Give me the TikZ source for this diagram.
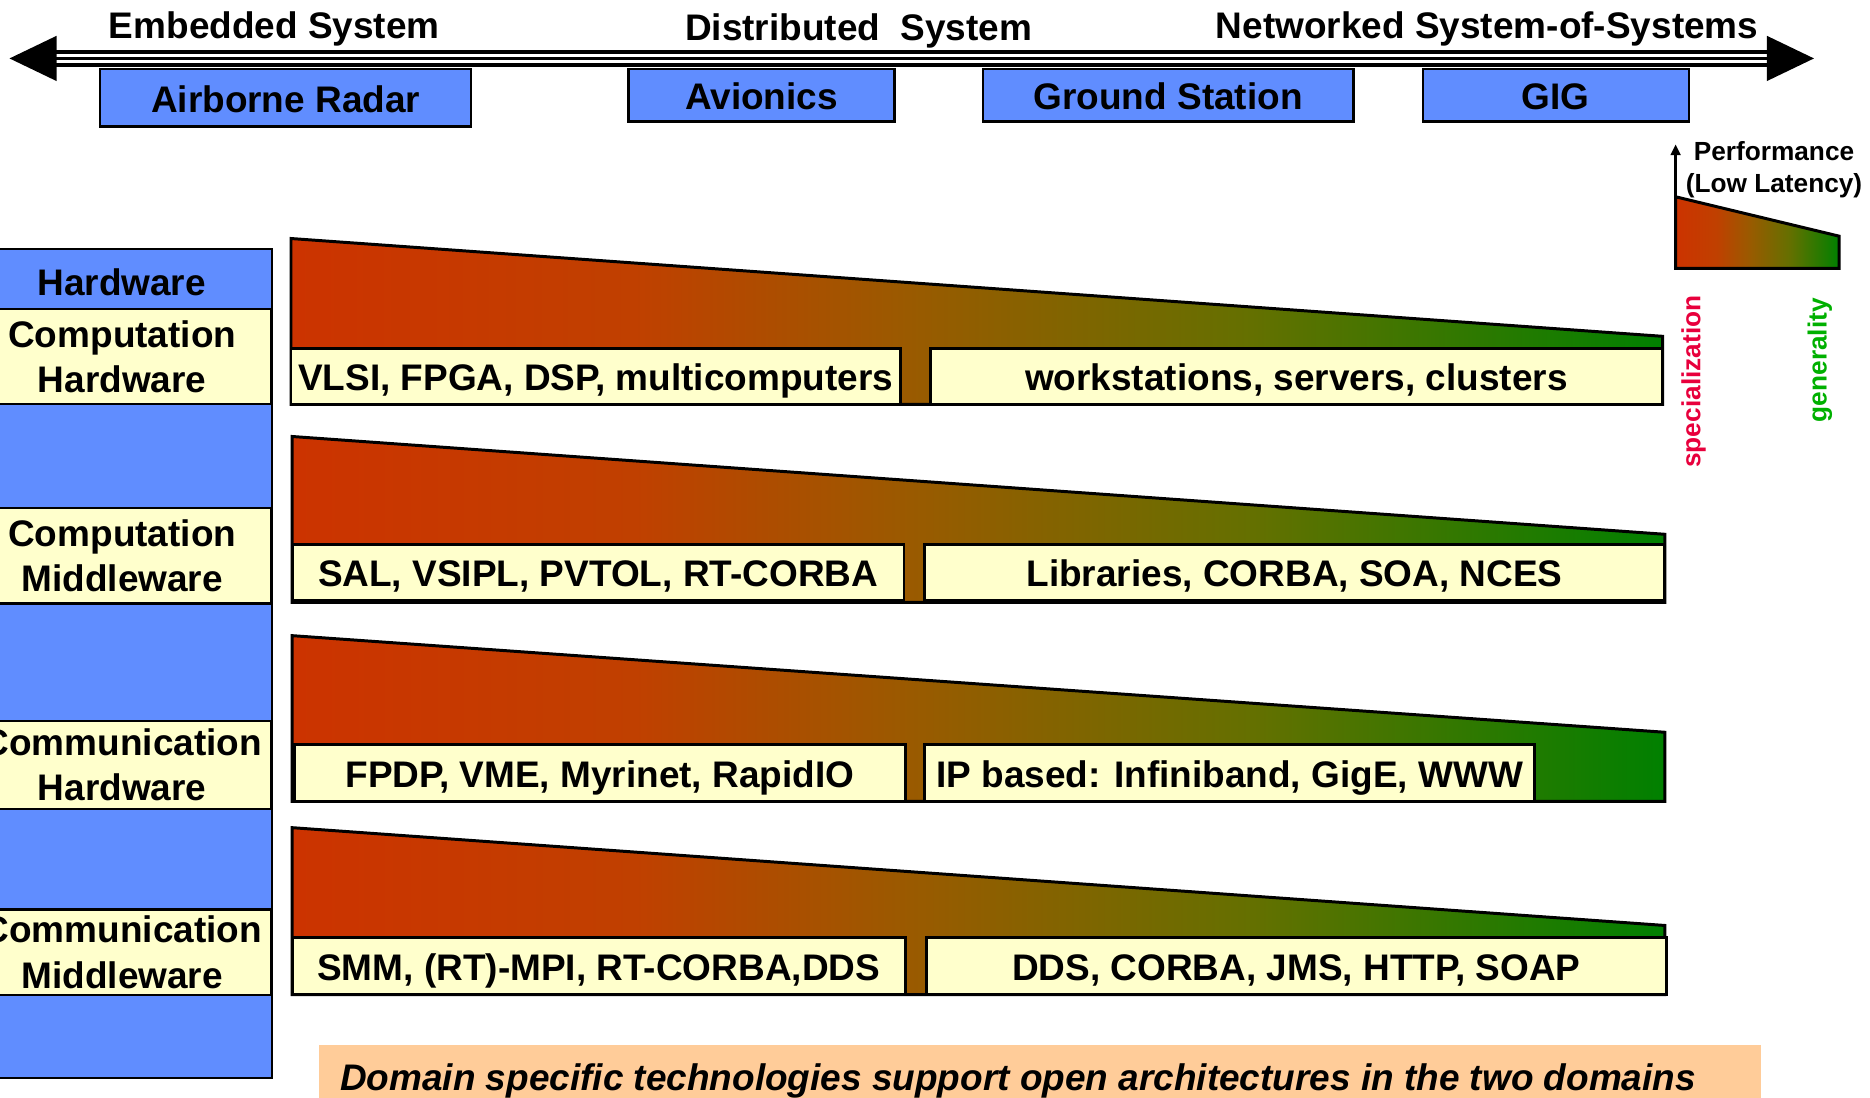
\documentclass[tikz,border=0pt]{standalone}
\usepackage{fontspec}
\setmainfont{Liberation Sans}
\usetikzlibrary{arrows.meta}

\definecolor{boxblue}{RGB}{96,141,255}
\definecolor{boxyellow}{RGB}{255,255,204}
\definecolor{peach}{RGB}{255,204,153}
\definecolor{wL}{RGB}{204,51,0}
\definecolor{wA}{RGB}{192,64,0}
\definecolor{wM}{RGB}{154,90,0}
\definecolor{wB}{RGB}{100,112,0}
\definecolor{wR}{RGB}{0,128,0}
\definecolor{specred}{RGB}{232,0,60}
\definecolor{gengreen}{RGB}{0,176,0}

% red -> brown -> olive -> green, spread over the path's width
\pgfdeclarehorizontalshading{wedgeshade}{100bp}{color(0bp)=(wL); color(25bp)=(wL); color(37.5bp)=(wA); color(47.5bp)=(wM); color(60bp)=(wB); color(75bp)=(wR); color(100bp)=(wR)}

\tikzset{
  lbl/.style={font=\fontsize{31}{37}\selectfont\bfseries, inner sep=0pt},
  oneline/.style={text height=24pt, text depth=0pt},
  bluebox/.style={lbl, oneline, draw=black, line width=2pt, fill=boxblue},
  strip/.style={lbl, align=center, draw=black, line width=2pt, fill=boxyellow,
                minimum width=249pt},
  techbox/.style={lbl, oneline, draw=black, line width=2.5pt, fill=boxyellow},
  wedge/.style={draw=black, line width=2.5pt, shading=wedgeshade},
  shaft/.style={line width=2.8pt},
  small/.style={font=\fontsize{22}{27}\selectfont\bfseries, inner sep=0pt},
}

\begin{document}
\begin{tikzpicture}[x=1pt, y=-1pt]
\useasboundingbox (0,0) rectangle (1568,920);
\clip (0,0) rectangle (1568,920);

% ---------- scale arrow across the top ----------
\coordinate (ltip) at (8,49);
\coordinate (rtip) at (1521,49);
\fill (ltip) -- ++(39.5,-19) -- ++(0,38) -- cycle;
\fill (rtip) -- ++(-39.5,-19) -- ++(0,38) -- cycle;
\draw[shaft] ([shift={(39,-5.3)}]ltip) -- ([shift={(-39,-5.3)}]rtip);
\draw[shaft] ([shift={(39,0.2)}]ltip) -- ([shift={(-39,0.2)}]rtip);
\draw[shaft] ([shift={(39,5.4)}]ltip) -- ([shift={(-39,5.4)}]rtip);

\node[lbl, oneline] (embedded) at (230,20) {Embedded System};
\node[lbl, oneline] (distributed) at (720,22) {Distributed\ \ System};
\node[lbl, oneline] (networked) at (1247,20) {Networked System-of-Systems};

\node[bluebox, minimum width=311pt, minimum height=48pt] (radar) at (239.5,82) {Airborne Radar};
\node[bluebox, minimum width=223pt, minimum height=44pt] (avionics) at (638.5,80) {Avionics};
\node[bluebox, minimum width=311pt, minimum height=44pt] (ground) at (979.5,80) {Ground Station};
\node[bluebox, minimum width=223pt, minimum height=44pt] (gig) at (1304.5,80) {GIG};

% ---------- layer column on the left ----------
\node[draw=black, line width=2pt, fill=boxblue, minimum width=249pt, minimum height=695pt,
      anchor=north west, inner sep=0pt] (column) at (-22,208) {};
\node[lbl, oneline] (hwhead) at (102,236) {Hardware};
\node[strip, minimum height=80pt] (comphw) at (102.5,299) {Computation\\[1pt]Hardware};
\node[strip, minimum height=80pt] (compmw) at (102.5,466) {Computation\\[1pt]Middleware};
\node[strip, minimum height=74pt] (commhw) at (102.5,641.5) {Communication\\[1pt]Hardware};
\node[strip, minimum height=72pt] (commmw) at (102.5,798.5) {Communication\\[1pt]Middleware};

% ---------- row 1: computation hardware ----------
\draw[wedge] (244,339) -- (244,200) -- (1394,282) -- (1394,339) -- cycle;
\node[techbox, minimum width=511pt, minimum height=47pt] (vlsi) at (499.5,315.5) {VLSI, FPGA, DSP, multicomputers};
\node[techbox, minimum width=614pt, minimum height=47pt] (wks) at (1087,315.5) {workstations, servers, clusters};

% ---------- row 2: computation middleware ----------
\draw[wedge] (245,505) -- (245,366) -- (1396,448) -- (1396,505) -- cycle;
\node[techbox, minimum width=513pt, minimum height=47pt] (sal) at (501.5,480) {SAL, VSIPL, PVTOL, RT-CORBA};
\node[techbox, minimum width=621pt, minimum height=47pt] (libs) at (1085.5,480) {Libraries, CORBA, SOA, NCES};

% ---------- row 3: communication hardware ----------
\draw[wedge] (245,672) -- (245,533) -- (1396,614) -- (1396,672) -- cycle;
\node[techbox, minimum width=512pt, minimum height=48pt] (fpdp) at (503,648) {FPDP, VME, Myrinet, RapidIO};
\node[techbox, minimum width=512pt, minimum height=48pt] (ipb) at (1031,648) {IP based: Infiniband, GigE, WWW};

% ---------- row 4: communication middleware ----------
\draw[wedge] (245,834) -- (245,694) -- (1396,776) -- (1396,834) -- cycle;
\node[techbox, minimum width=514pt, minimum height=48pt] (smm) at (502,810) {SMM, (RT)-MPI, RT-CORBA,DDS};
\node[techbox, minimum width=620pt, minimum height=48pt] (dds) at (1087,810) {DDS, CORBA, JMS, HTTP, SOAP};

% ---------- legend ----------
\coordinate (lgorigin) at (1405,225);
\coordinate (lgtop) at (1405,121);
\draw[wedge] (lgorigin) -- (1405,165) -- (1542,198) -- (1542,225) -- cycle;
\draw[line width=2.5pt, -{Triangle[width=8pt,length=9pt]}] (lgorigin) -- (lgtop);
\node[small, align=center] (perf) at (1487.5,142) {Performance\\(Low Latency)};
\node[small, text=specred, rotate=90] (spec) at (1420,320) {specialization};
\node[small, text=gengreen, rotate=90] (gen) at (1526,302) {generality};

% ---------- closing remark ----------
\node[fill=peach, minimum width=1209pt, minimum height=60pt, anchor=north west, inner sep=0pt] (banner) at (267,876) {};
\node[lbl, font=\fontsize{31}{37}\selectfont\bfseries\itshape, anchor=base west] (remark) at (285,914)
  {Domain specific technologies support open architectures in the two domains};
\end{tikzpicture}
\end{document}
